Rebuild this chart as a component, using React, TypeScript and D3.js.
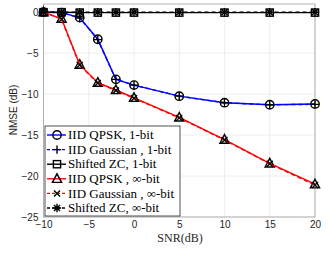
import React, { useEffect, useRef } from "react";
import * as d3 from "d3";

const snr = [-10, -8, -6, -4, -2, 0, 5, 10, 15, 20];
const qpsk1 = [0, -0.05, -0.65, -3.3, -8.2, -8.9, -10.25, -11.05, -11.3, -11.2];
const gauss1 = [0, -0.05, -0.7, -3.35, -8.2, -8.9, -10.25, -11.05, -11.3, -11.25];
const zc1 = [0, 0, -0.05, -0.05, -0.05, -0.05, -0.05, -0.05, -0.05, -0.05];
const qpskInf = [0, -0.8, -6.4, -8.6, -9.5, -10.45, -12.85, -15.55, -18.45, -21.0];
const gaussInf = [0, -0.85, -6.45, -8.65, -9.55, -10.5, -12.9, -15.6, -18.5, -21.1];
const zcInf = [0, 0, 0, 0, 0, 0, 0, 0, 0, 0];
const xTicks = [-10, -5, 0, 5, 10, 15, 20];
const yTicks = [0, -5, -10, -15, -20, -25];

const series = [
  { name: "IID QPSK, 1-bit", values: qpsk1, color: "#0000ff", dash: "", marker: "circle" },
  { name: "IID Gaussian , 1-bit", values: gauss1, color: "#0000ff", dash: "4,3", marker: "plus" },
  { name: "Shifted ZC, 1-bit", values: zc1, color: "#000000", dash: "", marker: "square" },
  { name: "IID QPSK , \u221e-bit", values: qpskInf, color: "#ff0000", dash: "", marker: "triangle" },
  { name: "IID Gaussian , \u221e-bit", values: gaussInf, color: "#ff0000", dash: "4,3", marker: "cross" },
  { name: "Shifted ZC, \u221e-bit", values: zcInf, color: "#000000", dash: "4,3", marker: "star" },
];

function drawMarker(g: any, type: string, x: number, y: number) {
  const s = 4.2;
  const sw = 1.4;
  if (type === "circle") {
    g.append("circle").attr("cx", x).attr("cy", y).attr("r", s)
      .attr("fill", "none").attr("stroke", "#000").attr("stroke-width", sw);
  } else if (type === "square") {
    g.append("rect").attr("x", x - 3.6).attr("y", y - 3.6).attr("width", 7.2).attr("height", 7.2)
      .attr("fill", "none").attr("stroke", "#000").attr("stroke-width", sw);
  } else if (type === "triangle") {
    g.append("path")
      .attr("d", `M${x},${y - 5}L${x + 4.6},${y + 3.6}L${x - 4.6},${y + 3.6}Z`)
      .attr("fill", "none").attr("stroke", "#000").attr("stroke-width", sw);
  } else if (type === "plus") {
    g.append("path").attr("d", `M${x - s},${y}H${x + s}M${x},${y - s}V${y + s}`)
      .attr("stroke", "#000").attr("stroke-width", sw);
  } else if (type === "cross") {
    g.append("path").attr("d", `M${x - 3},${y - 3}L${x + 3},${y + 3}M${x - 3},${y + 3}L${x + 3},${y - 3}`)
      .attr("stroke", "#000").attr("stroke-width", sw);
  } else if (type === "star") {
    g.append("path")
      .attr("d", `M${x - s},${y}H${x + s}M${x},${y - s}V${y + s}M${x - 3},${y - 3}L${x + 3},${y + 3}M${x - 3},${y + 3}L${x + 3},${y - 3}`)
      .attr("stroke", "#000").attr("stroke-width", sw);
  }
}

export default function App() {
  const ref = useRef<SVGSVGElement>(null);

  useEffect(() => {
    const svg = d3.select(ref.current);
    svg.selectAll("*").remove();

    const x = d3.scaleLinear().domain([-10, 20]).range([43.5, 315]);
    const y = d3.scaleLinear().domain([-25, 1]).range([217, 4]);
    const left = 43.5, right = 315, top = 4, bottom = 217;

    svg.append("rect").attr("width", 329).attr("height", 257).attr("fill", "#fff");

    const grid = svg.append("g").attr("stroke", "#e6e6e6").attr("stroke-width", 0.7);
    xTicks.forEach((t) => grid.append("line").attr("x1", x(t)).attr("x2", x(t)).attr("y1", top).attr("y2", bottom));
    yTicks.forEach((t) => grid.append("line").attr("y1", y(t)).attr("y2", y(t)).attr("x1", left).attr("x2", right));

    const xAxis = svg.append("g").attr("transform", `translate(0,${bottom})`)
      .call(d3.axisBottom(x).tickValues(xTicks).tickSize(0).tickPadding(4));
    xAxis.select(".domain").remove();
    xAxis.selectAll("text").attr("font-family", "Liberation Sans, Arial, sans-serif")
      .attr("font-size", 10).attr("fill", "#262626");

    const yAxis = svg.append("g").attr("transform", `translate(${left},0)`)
      .call(d3.axisLeft(y).tickValues(yTicks).tickSize(0).tickPadding(5));
    yAxis.select(".domain").remove();
    yAxis.selectAll("text").attr("font-family", "Liberation Sans, Arial, sans-serif")
      .attr("font-size", 10).attr("fill", "#262626");

    svg.append("rect").attr("x", left).attr("y", top).attr("width", right - left).attr("height", bottom - top)
      .attr("fill", "none").attr("stroke", "#a0a0a0").attr("stroke-width", 0.8);

    const line = d3.line<number>().x((d, i) => x(snr[i])).y((d) => y(d));

    series.forEach((s) => {
      svg.append("path").datum(s.values).attr("d", line).attr("fill", "none")
        .attr("stroke", s.color).attr("stroke-width", 1.4).attr("stroke-dasharray", s.dash || null);
      const mg = svg.append("g");
      s.values.forEach((v, i) => drawMarker(mg, s.marker, x(snr[i]), y(v)));
    });

    // legend
    const lg = svg.append("g");
    lg.append("rect").attr("x", 45).attr("y", 126).attr("width", 135).attr("height", 90)
      .attr("fill", "#fff").attr("stroke", "#262626").attr("stroke-width", 0.8);
    series.forEach((s, i) => {
      const yy = 135 + i * 14.6;
      lg.append("line").attr("x1", 47).attr("x2", 66).attr("y1", yy).attr("y2", yy)
        .attr("stroke", s.color).attr("stroke-width", 1.4).attr("stroke-dasharray", s.dash ? "3,2" : null);
      drawMarker(lg, s.marker, 57, yy);
      lg.append("text").attr("x", 68).attr("y", yy + 4.2).text(s.name)
        .attr("font-family", "Liberation Serif, Times New Roman, serif").attr("font-size", 13).attr("fill", "#000");
    });

    svg.append("text").attr("x", 180).attr("y", 242).attr("text-anchor", "middle").text("SNR(dB)")
      .attr("font-family", "Liberation Serif, Times New Roman, serif").attr("font-size", 12).attr("fill", "#262626");
    svg.append("text").attr("transform", "translate(17,110) rotate(-90)").attr("text-anchor", "middle")
      .text("NMSE (dB)").attr("font-family", "Liberation Sans, Arial, sans-serif").attr("font-size", 10)
      .attr("fill", "#262626");
  }, []);

  return (
    <svg ref={ref} width={329} height={257} style={{ position: "absolute", left: 0, top: 0 }} />
  );
}
